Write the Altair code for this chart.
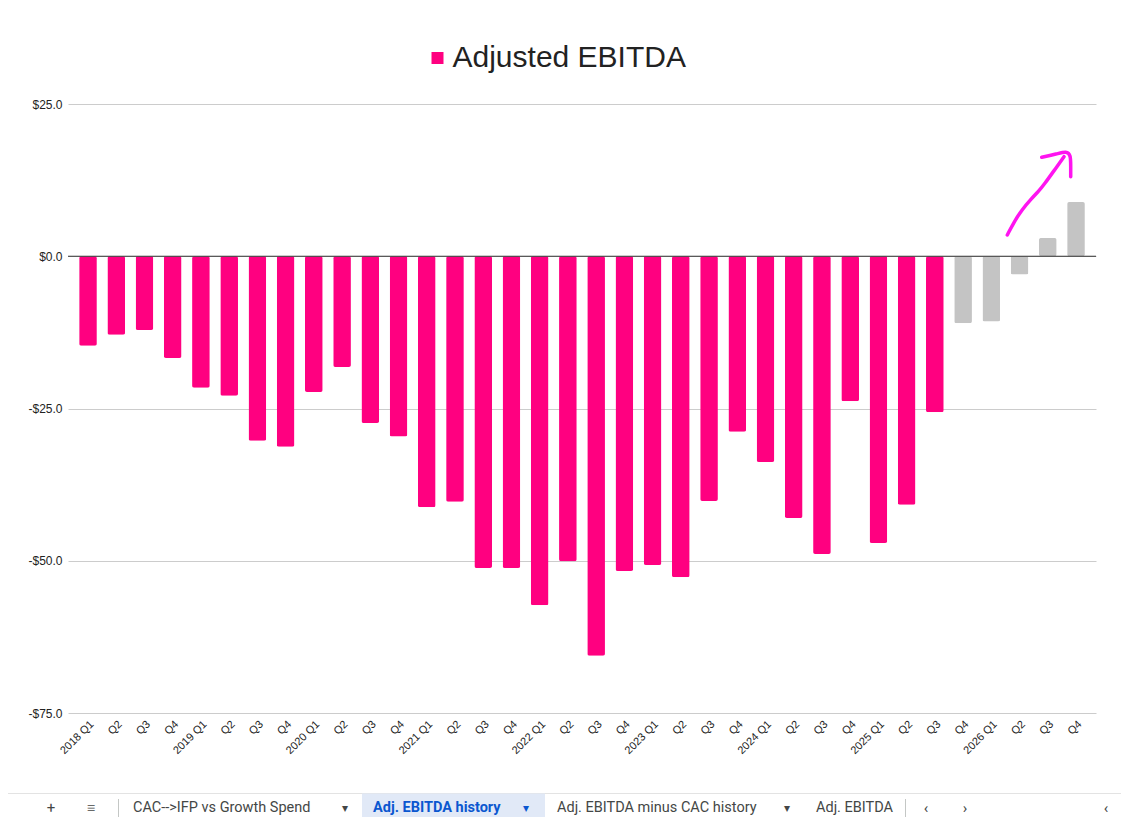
import altair as alt
import pandas as pd

# ---------------- data ----------------
periods = [
    "2018 Q1", "2018 Q2", "2018 Q3", "2018 Q4",
    "2019 Q1", "2019 Q2", "2019 Q3", "2019 Q4",
    "2020 Q1", "2020 Q2", "2020 Q3", "2020 Q4",
    "2021 Q1", "2021 Q2", "2021 Q3", "2021 Q4",
    "2022 Q1", "2022 Q2", "2022 Q3", "2022 Q4",
    "2023 Q1", "2023 Q2", "2023 Q3", "2023 Q4",
    "2024 Q1", "2024 Q2", "2024 Q3", "2024 Q4",
    "2025 Q1", "2025 Q2", "2025 Q3", "2025 Q4",
    "2026 Q1", "2026 Q2", "2026 Q3", "2026 Q4",
]
ebitda = [
    -14.7, -12.9, -12.1, -16.7,
    -21.6, -22.9, -30.3, -31.3,
    -22.3, -18.2, -27.4, -29.6,
    -41.2, -40.3, -51.2, -51.2,
    -57.3, -50.1, -65.6, -51.7,
    -50.7, -52.7, -40.2, -28.8,
    -33.8, -43.0, -48.9, -23.8,
    -47.1, -40.8, -25.6, -11.0,
    -10.7, -3.0, 3.0, 8.9,
]
series = ["Adjusted EBITDA"] * 31 + ["Forecast"] * 5
y_ticks = [-75, -50, -25, 0, 25]

# hand-drawn arrow annotation (pixel coords relative to plot origin)
arrow_x = [939.3, 945.3, 953.7, 963.7, 970.3, 977.0, 985.3, 996.0,
           973.7, 988.7, 998.7, 1002.7, 1002.7, 1002.7]
arrow_y = [131.0, 119.3, 106.0, 94.3, 87.7, 79.3, 67.7, 52.7,
           53.3, 50.0, 47.0, 51.0, 62.7, 72.7]
arrow_part = ["shaft"] * 8 + ["head"] * 6

# sheet tab bar (screenshot chrome)
tab_text = ["+", "\u2261", "CAC-->IFP vs Growth Spend", "\u25BE",
            "Adj. EBITDA minus CAC history", "\u25BE", "Adj. EBITDA",
            "\u2039", "\u203A", "\u2039"]
tab_x = [-17, 23, 65, 277, 489, 719, 748, 858, 897, 1038]
tab_align = ["center", "center", "left", "center", "left", "center", "left",
             "center", "center", "center"]
tab_size = [15, 15, 14.5, 12, 14.5, 12, 14.5, 15, 15, 15]

PINK = "#ff0080"
GRAY = "#c4c4c4"
FONT = "Liberation Sans"
TAB_Y = 704

df = pd.DataFrame({"period": periods, "value": ebitda, "series": series})

x_enc = alt.X(
    "period:N", sort=periods,
    scale=alt.Scale(paddingInner=0.373, paddingOuter=0.395),
    axis=alt.Axis(
        title=None, labelAngle=-45, ticks=False, domain=False, grid=False,
        labelFont=FONT, labelFontSize=11, labelColor="#222222", labelPadding=5,
        labelExpr="indexof(datum.value, 'Q1') >= 0 ? datum.value : split(datum.value, ' ')[1]",
    ),
)
y_enc = alt.Y(
    "value:Q",
    scale=alt.Scale(domain=[-75, 25], nice=False, zero=False),
    axis=alt.Axis(
        title=None, values=y_ticks, domain=False, ticks=False,
        gridColor="#cccccc", labelFont=FONT, labelFontSize=12,
        labelColor="#222222", labelPadding=6,
        labelExpr="datum.value < 0 ? '-$' + format(-datum.value, '.1f') : '$' + format(datum.value, '.1f')",
    ),
)

bars = alt.Chart(df).mark_bar(cornerRadius=2).encode(
    x=x_enc,
    y=y_enc,
    color=alt.Color(
        "series:N",
        scale=alt.Scale(domain=["Adjusted EBITDA", "Forecast"], range=[PINK, GRAY]),
        legend=alt.Legend(
            values=["Adjusted EBITDA"], orient="none", legendX=354.5, legendY=-61,
            title=None, labelFont=FONT, labelFontSize=30, labelColor="#222222",
            labelLimit=600, symbolType="square",
            symbolSize=144, symbolStrokeWidth=0, labelOffset=0, padding=0,
        ),
    ),
)

zero = alt.Chart(pd.DataFrame({"v": [0]})).mark_rule(color="#333333", strokeWidth=1).encode(
    y=alt.Y("v:Q"),
)

main = alt.layer(bars, zero)

arrow_df = pd.DataFrame({"ax": arrow_x, "ay": arrow_y, "part": arrow_part})
arrow = alt.Chart(arrow_df).mark_line(
    color="#ff14f0", strokeWidth=3.5, strokeCap="round", strokeJoin="round",
    interpolate="basis",
).encode(
    x=alt.X("ax:Q", scale=None, axis=None),
    y=alt.Y("ay:Q", scale=None, axis=None),
    detail="part:N",
    order=alt.Order("idx:Q"),
).transform_window(idx="row_number()", groupby=["part"])

rects_df = pd.DataFrame({
    "x1": [-60, 294, 50, 837],
    "x2": [1053, 477, 51, 838],
    "y1": [TAB_Y - 15, TAB_Y - 14.5, TAB_Y - 9, TAB_Y - 9],
    "y2": [TAB_Y - 14, TAB_Y + 16, TAB_Y + 9, TAB_Y + 9],
    "fill": ["#e3e3e3", "#e1e9f7", "#c4c7c5", "#c4c7c5"],
})
rects = alt.Chart(rects_df).mark_rect().encode(
    x=alt.X("x1:Q", scale=None, axis=None),
    x2="x2:Q",
    y=alt.Y("y1:Q", scale=None, axis=None),
    y2="y2:Q",
    color=alt.Color("fill:N", scale=None),
)

tabs_df = pd.DataFrame({"t": tab_text, "tx": tab_x, "al": tab_align, "sz": tab_size})
tab_layers = []
for al in ["left", "center"]:
    for sz in sorted(set(tab_size)):
        sub = tabs_df[(tabs_df.al == al) & (tabs_df.sz == sz)]
        if len(sub) == 0:
            continue
        tab_layers.append(
            alt.Chart(sub).mark_text(
                align=al, baseline="middle", font="Roboto", fontSize=sz, color="#444746",
            ).encode(
                x=alt.X("tx:Q", scale=None, axis=None),
                y=alt.value(TAB_Y),
                text="t:N",
            )
        )

active_df = pd.DataFrame({"t": ["Adj. EBITDA history", "\u25BE"], "tx": [305, 458]})
active_text = alt.Chart(active_df.iloc[[0]]).mark_text(
    align="left", baseline="middle", font="Roboto", fontSize=14.5,
    fontWeight="bold", color="#0b57d0",
).encode(x=alt.X("tx:Q", scale=None, axis=None), y=alt.value(TAB_Y), text="t:N")
active_caret = alt.Chart(active_df.iloc[[1]]).mark_text(
    align="center", baseline="middle", font="Roboto", fontSize=12, color="#0b57d0",
).encode(x=alt.X("tx:Q", scale=None, axis=None), y=alt.value(TAB_Y), text="t:N")

chart = alt.layer(
    main, arrow, rects, *tab_layers, active_text, active_caret
).resolve_scale(
    x="independent", y="independent", color="independent"
).properties(
    width=1028, height=609,
    padding={"left": 60, "top": 96, "right": 25, "bottom": 104},
    autosize=alt.AutoSizeParams(type="none"),
).configure(
    font=FONT,
).configure_view(
    strokeOpacity=0,
)

chart.save("out.html", embed_options={"renderer": "svg", "actions": False})
